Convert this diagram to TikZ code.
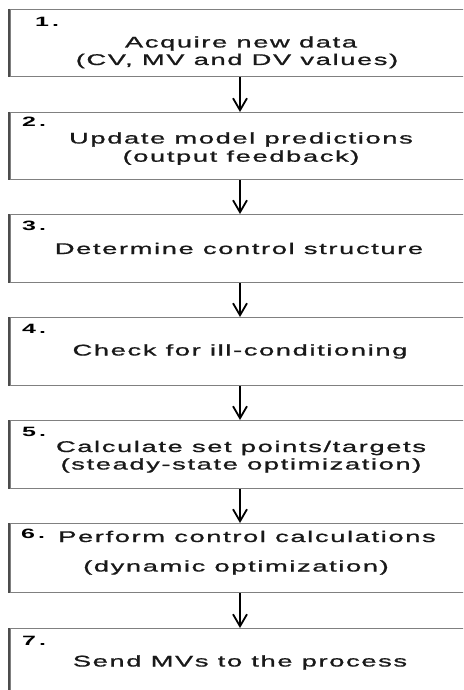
\documentclass[tikz,border=0pt]{standalone}
\usepackage{fontspec}
\usepackage{graphicx}
\usetikzlibrary{arrows.meta}
\newfontfamily\boxfont[LetterSpace=6,FakeBold=0.8]{Liberation Sans}
\newfontfamily\numfont[LetterSpace=12]{Liberation Sans}
\newcommand\wide[1]{\scalebox{1.76}[1]{#1}}
\newcommand\widenum[1]{\scalebox{1.85}[1]{#1}}
\definecolor{boxline}{gray}{0.5}
\definecolor{boxleft}{gray}{0.3}
\definecolor{txt}{gray}{0.1}
\begin{document}
\begin{tikzpicture}[x=1pt,y=1pt,
  stepbox/.style={draw=boxline, line width=1.4pt, rectangle, minimum width=460pt, inner sep=0pt},
  lbl/.style={anchor=base, inner sep=0pt, text=txt, font=\boxfont\fontsize{15.5}{18}\selectfont},
  num/.style={anchor=base west, inner sep=0pt, text=black, font=\numfont\bfseries\fontsize{13.5}{15}\selectfont},
  arr/.style={line width=2pt, -{Straight Barb[length=12pt,width=14pt,line width=1.8pt]}}]
\useasboundingbox (0,0) rectangle (463,-690);
\clip (0,0) rectangle (463,-690);
% boxes (top y, height)
\node[stepbox, minimum height=67pt, anchor=north] (b1) at (240,-9) {};
\node[stepbox, minimum height=67pt, anchor=north] (b2) at (240,-112) {};
\node[stepbox, minimum height=68pt, anchor=north] (b3) at (240,-214) {};
\node[stepbox, minimum height=68pt, anchor=north] (b4) at (240,-317) {};
\node[stepbox, minimum height=68pt, anchor=north] (b5) at (240,-420) {};
\node[stepbox, minimum height=69pt, anchor=north] (b6) at (240,-523) {};
\node[stepbox, minimum height=90pt, anchor=north] (b7) at (240,-628) {};
% darker left edges
\foreach \b in {b1,b2,b3,b4,b5,b6,b7}{
  \draw[boxleft, line width=1.8pt] (\b.north west) -- (\b.south west);
}
% numbers
\node[num] (n1) at (35,-26.5) {\widenum{1.}};
\node[num] (n2) at (22,-126.7) {\widenum{2.}};
\node[num] (n3) at (22,-230) {\widenum{3.}};
\node[num] (n4) at (22,-333.5) {\widenum{4.}};
\node[num] (n5) at (22,-436.5) {\widenum{5.}};
\node[num] (n6) at (21,-538) {\widenum{6.}};
\node[num] (n7) at (22,-645) {\widenum{7.}};
% texts
\node[lbl] (t1a) at (241,-47.5) {\wide{Acquire new data}};
\node[lbl] (t1b) at (237,-65) {\wide{(CV, MV and DV values)}};
\node[lbl] (t2a) at (241,-143.5) {\wide{Update model predictions}};
\node[lbl] (t2b) at (241,-161.7) {\wide{(output feedback)}};
\node[lbl] (t3) at (239,-254) {\wide{Determine control structure}};
\node[lbl] (t4) at (240,-355.5) {\wide{Check for ill-conditioning}};
\node[lbl] (t5a) at (241,-452) {\wide{Calculate set points/targets}};
\node[lbl] (t5b) at (241,-469.5) {\wide{(steady-state optimization)}};
\node[lbl] (t6a) at (247,-542) {\wide{Perform control calculations}};
\node[lbl] (t6b) at (236,-571.5) {\wide{(dynamic optimization)}};
\node[lbl] (t7) at (240,-666.5) {\wide{Send MVs to the process}};
% arrows
\draw[arr] (b1.south) -- (b2.north);
\draw[arr] (b2.south) -- (b3.north);
\draw[arr] (b3.south) -- (b4.north);
\draw[arr] (b4.south) -- (b5.north);
\draw[arr] (b5.south) -- (b6.north);
\draw[arr] (b6.south) -- (b7.north);
\end{tikzpicture}
\end{document}
